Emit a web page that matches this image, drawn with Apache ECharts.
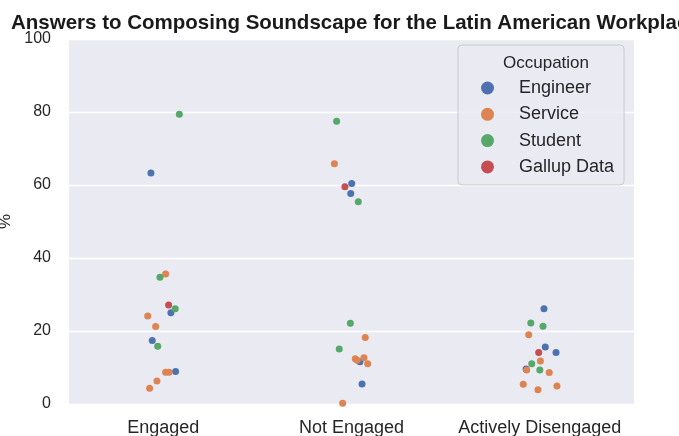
<!DOCTYPE html>
<html>
<head>
<meta charset="utf-8">
<script src="https://cdn.jsdelivr.net/npm/echarts@6/dist/echarts.min.js"></script>
<style>html,body{margin:0;padding:0;background:#fff;}#c{width:679px;height:436px;}</style>
</head>
<body>
<div id="c"></div>
<script>
const categories = ['Engaged', 'Not Engaged', 'Actively Disengaged'];
const hues = ['Engineer', 'Service', 'Student', 'Gallup Data'];
const colors = ['#4C72B0', '#DD8452', '#55A868', '#C44E52'];
const yTicks = [0, 20, 40, 60, 80, 100];

// each point: [category index, jitter, value]
const engineer = [
  [0, -0.065, 63.3], [0, 0.041, 25.0], [0, -0.058, 17.4], [0, 0.066, 8.9],
  [1, 0.001, 60.4], [1, -0.004, 57.7], [1, 0.045, 11.6], [1, 0.056, 5.5],
  [2, 0.022, 26.1], [2, 0.029, 15.6], [2, 0.086, 14.1], [2, -0.073, 9.6]
];
const service = [
  [0, 0.013, 35.6], [0, -0.082, 24.1], [0, -0.040, 21.2], [0, 0.013, 8.7], [0, 0.031, 8.7], [0, -0.033, 6.3], [0, -0.072, 4.3],
  [1, -0.091, 65.8], [1, 0.073, 18.2], [1, 0.020, 12.4], [1, 0.066, 12.7], [1, 0.086, 11.0], [1, 0.030, 12.0], [1, -0.047, 0.2],
  [2, -0.059, 19.0], [2, 0.003, 11.8], [2, -0.070, 9.3], [2, 0.050, 8.6], [2, -0.088, 5.4], [2, -0.010, 3.9], [2, 0.091, 4.9]
];
const student = [
  [0, 0.086, 79.4], [0, -0.017, 34.7], [0, 0.064, 26.1], [0, -0.029, 15.8],
  [1, -0.079, 77.5], [1, 0.036, 55.4], [1, -0.006, 22.1], [1, -0.065, 15.1],
  [2, -0.048, 22.2], [2, 0.017, 21.3], [2, -0.043, 11.0], [2, 0.000, 9.3]
];
const gallup = [
  [0, 0.029, 27.1],
  [1, -0.035, 59.5],
  [2, -0.006, 14.1]
];
const groups = [engineer, service, student, gallup];

const chart = echarts.init(document.getElementById('c'));
const font = 'Liberation Sans, Arial, sans-serif';
chart.setOption({
  animation: false,
  backgroundColor: '#ffffff',
  title: [
    {
      text: 'Answers to Composing Soundscape for the Latin American Workplace',
      left: 6, top: 8,
      textStyle: { fontFamily: font, fontSize: 20.5, fontWeight: 'bold', color: '#1a1a1a' }
    },
    {
      text: 'Occupation',
      left: 541, top: 50, textAlign: 'center',
      textStyle: { fontFamily: font, fontSize: 17, fontWeight: 'normal', color: '#262626' },
      z: 10
    }
  ],
  grid: { left: 69, right: 45, top: 39, bottom: 32, show: true, backgroundColor: '#EAEAF2', borderWidth: 0, containLabel: false, outerBoundsMode: 'none' },
  xAxis: [
    {
      type: 'category', data: categories, boundaryGap: true,
      axisLine: { show: false }, axisTick: { show: false }, splitLine: { show: false },
      axisLabel: { fontFamily: font, fontSize: 18, color: '#262626', margin: 15, interval: 0 }
    },
    {
      type: 'value', min: -0.5, max: 2.5, show: false
    }
  ],
  yAxis: {
    type: 'value', min: yTicks[0], max: yTicks[yTicks.length - 1], interval: 20,
    name: '%', nameLocation: 'middle', nameGap: 51, nameRotate: 90,
    nameTextStyle: { fontFamily: font, fontSize: 17, color: '#262626' },
    axisLine: { show: false }, axisTick: { show: false },
    axisLabel: { fontFamily: font, fontSize: 16, color: '#262626', margin: 18 },
    splitLine: { lineStyle: { color: '#ffffff', width: 1.3 } }
  },
  legend: {
    orient: 'vertical', left: 458, top: 45,
    padding: [34, 10, 9, 23],
    itemWidth: 13, itemHeight: 13, itemGap: 8.3,
    icon: 'circle',
    backgroundColor: 'rgba(234,234,242,0.8)',
    borderColor: '#cccccc', borderWidth: 1, borderRadius: 4,
    textStyle: { fontFamily: font, fontSize: 18, color: '#262626', padding: [0, 0, 0, 20] },
    data: hues
  },
  series: groups.map((g, i) => ({
    name: hues[i], type: 'scatter', xAxisIndex: 1,
    symbolSize: 7,
    itemStyle: { color: colors[i], opacity: 1 },
    data: g.map(p => [p[0] + p[1], p[2]])
  }))
});
</script>
</body>
</html>
